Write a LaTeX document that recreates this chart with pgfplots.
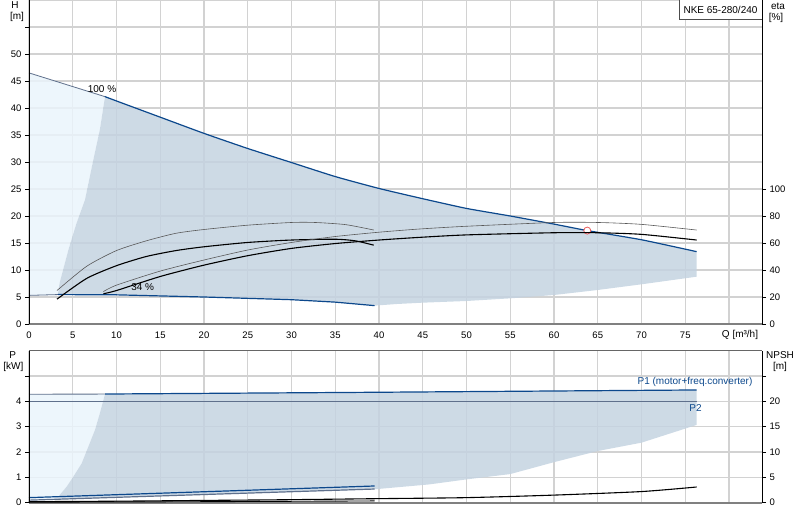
\documentclass[border=0pt]{standalone}
\usepackage{fontspec}
\setmainfont{Liberation Sans}
\usepackage{pgfplots}
\pgfplotsset{compat=1.18}
\definecolor{lightreg}{RGB}{234,244,251}
\definecolor{darkreg}{RGB}{196,211,225}
\definecolor{gbl}{RGB}{12,72,140}
\definecolor{gridc}{RGB}{210,210,210}
\definecolor{slate}{RGB}{95,112,140}
\definecolor{opc}{RGB}{232,90,90}
\pgfplotsset{
  base/.style={
    scale only axis, width=733pt, xmin=0, xmax=83.77, clip=false,
    axis line style={draw=none},
    tick align=outside, major tick length=4pt,
    xtick style={draw=none},
    ytick style={black, line width=0.6pt},
    /pgf/number format/assume math mode=true,
    tick label style={font=\fontsize{9.5}{11}\selectfont},
    grid style={gridc, line width=1.3pt},
  }
}
\begin{document}
\begin{tikzpicture}[font=\fontsize{10}{12}\selectfont]
\useasboundingbox (0,0) rectangle (800pt,520pt);
% ================= TOP PANEL: H =================
\begin{axis}[base, at={(29pt,196pt)}, anchor=south west, height=324pt,
  ymin=0, ymax=60,
  xtick={0,5,...,80},
  xticklabels={0,5,10,15,20,25,30,35,40,45,50,55,60,65,70,75,{}},
  xticklabel pos=bottom,
  ytick={0,5,...,55},
  yticklabels={0,5,10,15,20,25,30,35,40,45,50,{}},
  ytick pos=left,
  grid=major]
% light region
\addplot[fill=lightreg, draw=none, fill opacity=0.85] coordinates {
 (0,5.3) (0,46.5) (8.69,42.1) (8.1,36) (7.3,30) (6.4,23) (5.4,18.5) (4.5,13.7) (3.5,7.6) (3.3,5.45) (3.2,5.3)} -- cycle;
% dark region
\addplot[fill=darkreg, draw=none, fill opacity=0.85] coordinates {
 (3.3,5.45) (3.5,7.6) (4.5,13.7) (5.4,18.5) (6.4,23) (7.3,30) (8.1,36) (8.69,42.1)
 (10,41.3) (15,38.3) (20,35.3) (25,32.5) (30,29.9) (35,27.3) (40,25.1) (45,23.2) (50,21.4) (55,20.0) (60,18.5) (63.8,17.3) (70,15.6) (76.3,13.4)
 (76.3,8.76) (70,7.35) (65,6.3) (60,5.37) (55,4.75) (50,4.26) (45,3.95) (42,3.7) (39.5,3.4)
 (35,4.05) (30,4.5) (20,5.0) (10,5.4) (3.3,5.45)} -- cycle;
% min speed curve
\addplot[slate, line width=0.8pt] coordinates {(0,5.3) (3.3,5.45)};
\addplot[gbl, line width=1.2pt] coordinates {(3.3,5.45) (10,5.4) (20,5.0) (30,4.5) (35,4.05) (39.5,3.4)};
% max speed curve
\addplot[slate, line width=0.8pt] coordinates {(0,46.5) (8.69,42.1)};
\addplot[gbl, line width=1.2pt, smooth, tension=0.3] coordinates {(8.69,42.1) (10,41.3) (15,38.3) (20,35.3) (25,32.5) (30,29.9) (35,27.3) (40,25.1) (45,23.2) (50,21.4) (55,20.0) (60,18.5) (63.8,17.3) (70,15.6) (76.3,13.4)};
% operating point
\addplot[only marks, mark=*, mark size=3.5pt, mark options={draw=opc, fill=white, line width=0.8pt}] coordinates {(63.8,17.3)};
\node[anchor=center] at (axis cs:8.34,43.5) {100 \%};
\node[anchor=center] at (axis cs:13.0,6.85) {34 \%};
% axis lines
\draw[gridc, line width=1.3pt] (rel axis cs:0,1) -- (rel axis cs:1,1);
\draw[gray, line width=1.6pt] (rel axis cs:0,0) -- (rel axis cs:1,0);
\draw[black, line width=0.8pt] (rel axis cs:0,0) -- (rel axis cs:0,1);
\draw[black, line width=0.8pt] (rel axis cs:1,0) -- (rel axis cs:1,1);
\end{axis}
% eta axis
\begin{axis}[base, at={(29pt,196pt)}, anchor=south west, height=324pt,
  ymin=0, ymax=240, xtick=\empty,
  ytick={0,20,...,100}, ytick pos=right, yticklabel pos=right]
\addplot[gray!70!black, line width=0.6pt, smooth, tension=0.4] coordinates {
 (3.2,24.8) (6.6,42.8) (10,54.4) (13.4,61.6) (16.8,67.2) (20,70) (25,73.2) (30,75.2) (32.7,75.2) (36.2,73.6) (39.4,69.6)};
\addplot[black, line width=1.1pt, smooth, tension=0.4] coordinates {
 (3.2,18.4) (6.6,33.8) (10,43.2) (13.4,50) (16.8,54.4) (20,57.2) (25,60.4) (30,62.2) (35,62.8) (37.3,61.6) (39.4,58.4)};
\addplot[gray!70!black, line width=0.6pt, smooth, tension=0.4] coordinates {
 (8.5,24) (10,28.8) (15,39.2) (20,47.4) (25,54.8) (30,60.4) (35,64.8) (40,68) (44.7,70.4) (50,72.4) (60,75.2) (65,75.2) (70,73.8) (76.3,69.6)};
\addplot[black, line width=1.1pt, smooth, tension=0.4] coordinates {
 (8.5,22.4) (10,24.8) (15,35.2) (20,43.6) (25,50.6) (30,56) (35,59.6) (40,62.2) (44.7,64.2) (50,66) (60,67.6) (65,67.6) (70,66.4) (76.3,62.2)};
\end{axis}
% ================= BOTTOM PANEL: P =================
\begin{axis}[base, at={(29pt,17.3pt)}, anchor=south west, height=152pt,
  ymin=0, ymax=6,
  xtick={0,5,...,80}, xticklabel={\mbox{}},
  ytick={0,1,...,5},
  yticklabels={0,1,2,3,4,{}},
  ytick pos=left,
  grid=major]
\addplot[fill=lightreg, draw=none, fill opacity=0.85] coordinates {
 (0,0.1) (0,4.28) (8.69,4.29) (8.1,3.53) (7.54,2.87) (6.78,2.21) (6.02,1.55) (5.07,1.03) (4.3,0.63) (3.35,0.24) (3.3,0.13)} -- cycle;
\addplot[fill=darkreg, draw=none, fill opacity=0.85] coordinates {
 (3.35,0.24) (4.3,0.63) (5.07,1.03) (6.02,1.55) (6.78,2.21) (7.54,2.87) (8.1,3.53) (8.69,4.29)
 (40,4.36) (76.3,4.45) (76.3,3.07) (70,2.37) (65,2.04) (60,1.6) (55,1.13) (50,0.92) (45.7,0.72) (39.5,0.53) (3.35,0.14)} -- cycle;
% P2 horizontal
\addplot[slate, line width=0.9pt] coordinates {(0,4.0) (76.3,4.0)};
% P1 max
\addplot[slate, line width=0.9pt] coordinates {(0,4.28) (8.69,4.29)};
\addplot[gbl, line width=1.2pt] coordinates {(8.69,4.29) (40,4.36) (76.3,4.45)};
% P min speed
\addplot[gbl, line width=1.2pt] coordinates {(0,0.2) (39.5,0.66)};
\addplot[slate, line width=1.2pt] coordinates {(0,0.1) (39.5,0.54)};
\draw[gray!80!black, line width=0.8pt] (rel axis cs:0,1) -- (rel axis cs:1,1);
\draw[gray, line width=1.6pt] (rel axis cs:0,0) -- (rel axis cs:1,0);
\draw[black, line width=0.8pt] (rel axis cs:0,0) -- (rel axis cs:0,1);
\draw[black, line width=0.8pt] (rel axis cs:1,0) -- (rel axis cs:1,1);
\end{axis}
% NPSH axis
\begin{axis}[base, at={(29pt,17.3pt)}, anchor=south west, height=152pt,
  ymin=0, ymax=30, xtick=\empty,
  ytick={0,5,...,25}, yticklabels={0,5,10,15,20,{}},
  ytick pos=right, yticklabel pos=right]
\addplot[black, line width=0.9pt] coordinates {(0,0.1) (20,0.2) (39.5,0.35)};
\addplot[black, line width=1.1pt, smooth, tension=0.4] coordinates {
 (0,0.2) (10,0.3) (20,0.45) (30,0.6) (40,0.8) (50,1.0) (60,1.5) (70,2.2) (76.3,3.1)};
\end{axis}
% ================= labels =================
\node at (15pt,515pt) {H};
\node at (17pt,503pt) {[m]};
\node at (778pt,514pt) {eta};
\node at (776pt,502pt) {[\%]};
\node at (740pt,185pt) {Q [m³/h]};
\node at (12.7pt,165pt) {P};
\node at (13.3pt,153.3pt) {[kW]};
\node at (780pt,165pt) {NPSH};
\node at (780pt,153.3pt) {[m]};
\node[text=gbl] at (695pt,137.7pt) {P1 (motor+freq.converter)};
\node[text=gbl] at (695.5pt,111.7pt) {P2};
\fill[white] (679.5pt,501pt) rectangle (761.5pt,520pt);
\draw[gray!60!black, line width=0.8pt] (679.5pt,520pt) -- (679.5pt,501pt) -- (762pt,501pt);
\node at (720.5pt,510.5pt) {NKE 65-280/240};
\end{tikzpicture}
\end{document}
